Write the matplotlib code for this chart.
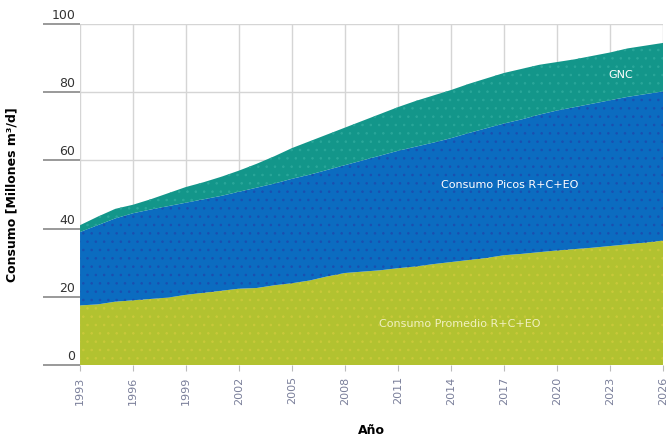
import numpy as np
import matplotlib.pyplot as plt
import matplotlib.transforms as mtransforms

# data (top edge of each band)
years = np.arange(1993, 2027)
promedio = [17.5, 17.8, 18.6, 19.0, 19.4, 19.8, 20.6, 21.2, 21.8, 22.4, 22.6, 23.4,
            24.0, 24.8, 26.0, 27.0, 27.4, 27.8, 28.4, 28.9, 29.6, 30.2, 30.8, 31.4,
            32.2, 32.6, 33.1, 33.6, 34.0, 34.4, 34.9, 35.4, 35.9, 36.5]
picos = [39.0, 41.0, 43.0, 44.5, 45.6, 46.6, 47.6, 48.6, 49.6, 50.8, 52.0, 53.2,
         54.6, 55.8, 57.2, 58.6, 60.0, 61.4, 62.8, 64.0, 65.2, 66.5, 68.0, 69.4,
         70.8, 72.0, 73.4, 74.6, 75.6, 76.6, 77.6, 78.6, 79.4, 80.2]
gnc = [41.0, 43.5, 45.8, 47.0, 48.6, 50.4, 52.2, 53.6, 55.2, 57.0, 59.0, 61.2,
       63.6, 65.6, 67.6, 69.6, 71.6, 73.6, 75.6, 77.4, 79.0, 80.6, 82.4, 84.0,
       85.6, 86.8, 88.0, 88.8, 89.6, 90.6, 91.6, 92.8, 93.6, 94.4]
xticks = list(range(1993, 2027, 3))
yticks = [0, 20, 40, 60, 80, 100]

plt.rcParams['hatch.linewidth'] = 0.6

fig = plt.figure(figsize=(6.67, 4.41), dpi=100)
ax = fig.add_axes([0.12, 0.172, 0.874, 0.774])

ax.fill_between(years, 0, promedio, facecolor='#b2c230', edgecolor='#c9c93a',
                hatch='..', lw=0, zorder=2)
ax.fill_between(years, promedio, picos, facecolor='#0b6cc0', edgecolor='#1a4fb0',
                hatch='..', lw=0, zorder=2)
ax.fill_between(years, picos, gnc, facecolor='#13968a', edgecolor='#2aa79a',
                hatch='..', lw=0, zorder=2)

ax.set_xlim(1993, 2026)
ax.set_ylim(0, 100)
ax.set_xticks(xticks)
ax.set_xticklabels([str(t) for t in xticks], rotation=90, color='#7a7f9a', fontsize=8)
ax.set_yticks(yticks)
ax.set_yticklabels([])
ax.tick_params(axis='y', length=27, width=1.2, color='#888888', direction='out')
ax.tick_params(axis='x', length=4, color='#bbbbbb', pad=4)
ax.grid(True, color='#d5d5d5', lw=1, zorder=0)
for s in ax.spines.values():
    s.set_visible(False)

trans = mtransforms.blended_transform_factory(ax.transAxes, ax.transData)
for t in yticks:
    ax.text(-0.008, t + 0.6, str(t), transform=trans, ha='right', va='bottom',
            fontsize=9, color='#333333')

ax.text(2023.6, 85, 'GNC', color='white', fontsize=8, ha='center', va='center', zorder=3)
ax.text(2017.3, 52.8, 'Consumo Picos R+C+EO', color='white', fontsize=8,
        ha='center', va='center', zorder=3)
ax.text(2014.5, 12, 'Consumo Promedio R+C+EO', color='#f0f0c0', fontsize=8,
        ha='center', va='center', zorder=3)

ax.set_xlabel('Año', fontsize=9, fontweight='bold', labelpad=14)
ax.set_ylabel('Consumo [Millones m³/d]', fontsize=9, fontweight='bold')
ax.yaxis.set_label_coords(-0.105, 0.5)

fig.savefig('out.png', dpi=100)
